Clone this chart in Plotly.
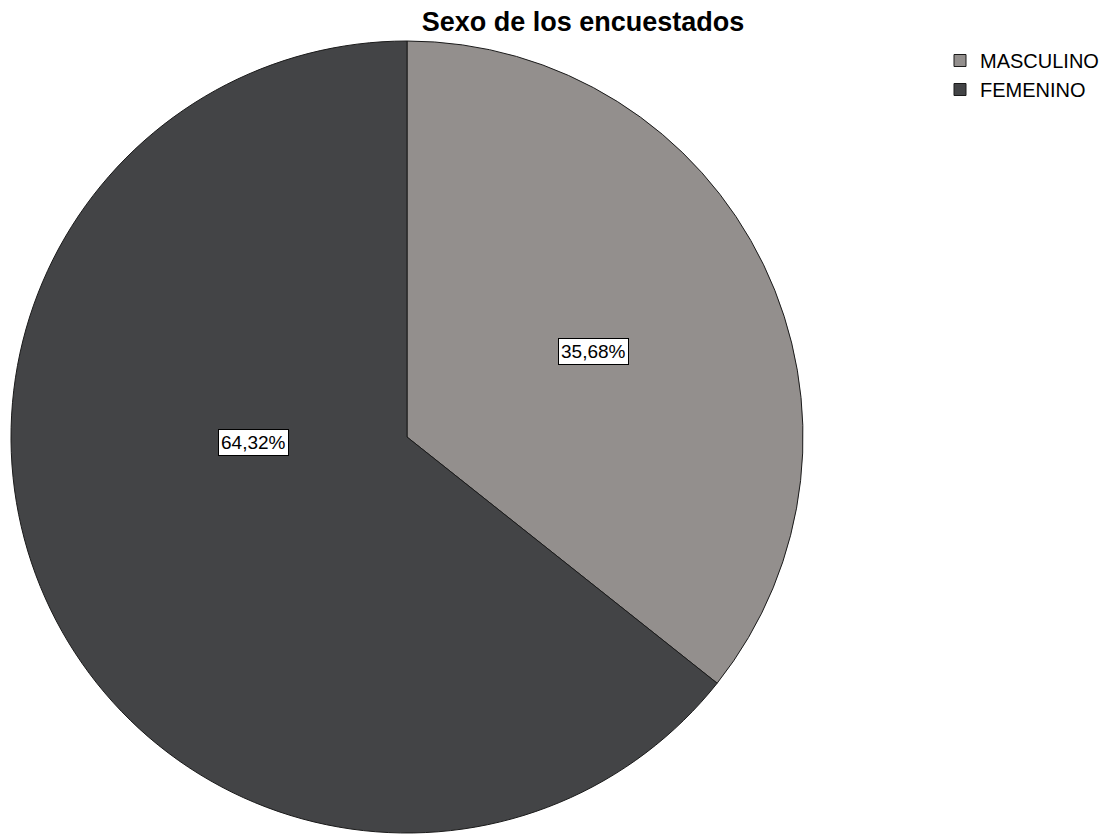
import plotly.graph_objects as go

categories = ["MASCULINO", "FEMENINO"]
percentages = [35.68, 64.32]
colors = ["#938f8d", "#434446"]
label_texts = ["35,68%", "64,32%"]
# label anchor positions (paper fractions)
label_x = [593 / 1115, 253 / 1115]
label_y = [1 - 351 / 834, 1 - 442 / 834]

W, H = 1115, 834
fig = go.Figure()
fig.add_trace(go.Pie(
    labels=categories,
    values=percentages,
    sort=False,
    direction="clockwise",
    rotation=0,
    textinfo="none",
    hoverinfo="label+percent",
    marker=dict(colors=colors, line=dict(color="#1a1a1a", width=1)),
    domain=dict(x=[8 / W, 806 / W], y=[1 - 833 / H, 1 - 41 / H]),
))

for t, x, y in zip(label_texts, label_x, label_y):
    fig.add_annotation(
        x=x, y=y, xref="paper", yref="paper", text=t, showarrow=False,
        xanchor="center", yanchor="middle",
        font=dict(family="Liberation Sans, Arial", size=19, color="#000000"),
        bgcolor="#ffffff", bordercolor="#000000", borderwidth=1, borderpad=2,
    )

fig.update_layout(
    width=W, height=H,
    margin=dict(l=0, r=0, t=0, b=0),
    paper_bgcolor="#ffffff",
    plot_bgcolor="#ffffff",
    title=dict(text="<b>Sexo de los encuestados</b>", x=583 / W, xanchor="center",
               y=1 - 22 / H, yanchor="middle",
               font=dict(family="Liberation Sans, Arial", size=27, color="#000000")),
    legend=dict(x=940 / W, y=1 - 41 / H, xanchor="left", yanchor="top",
                font=dict(family="Liberation Sans, Arial", size=20, color="#000000"),
                tracegroupgap=0, itemwidth=30),
    showlegend=True,
)

fig.write_html("out.html", config={"displayModeBar": False},
               post_script="document.body.style.margin='0';")
